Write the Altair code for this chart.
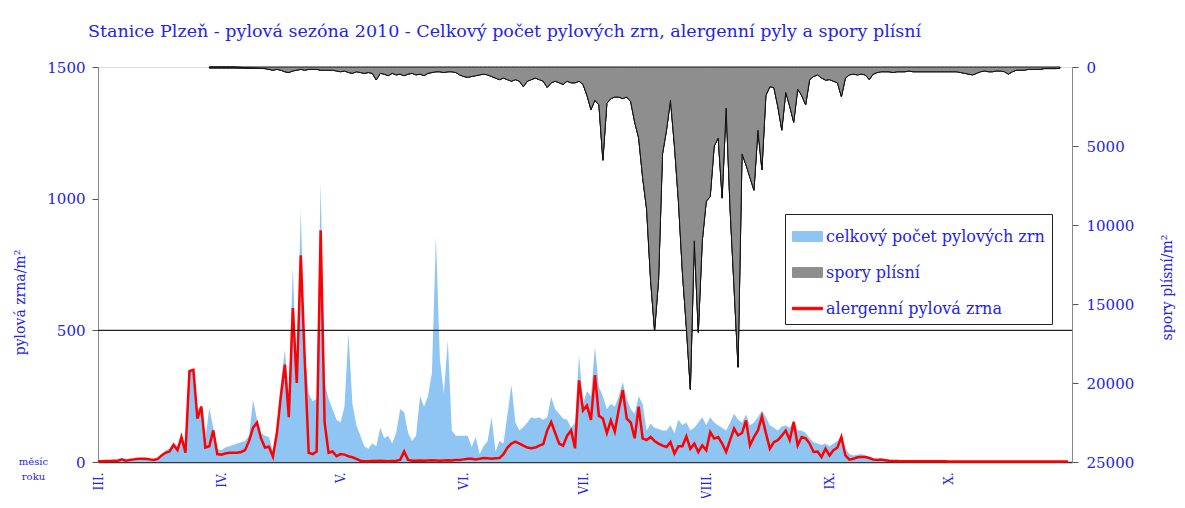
import altair as alt
import pandas as pd

# ---------------- data (day 0 = 1 March 2010 ... day 244 = 31 October) ----------------
alergenni = [
    3, 3, 4, 4, 5, 5, 10, 5, 8, 10,
    12, 12, 12, 10, 8, 12, 25, 35, 40, 65,
    45, 95, 35, 345, 350, 165, 210, 55, 60, 120,
    30, 28, 32, 35, 35, 35, 38, 45, 80, 130,
    150, 90, 55, 58, 20, 110, 250, 370, 170, 585,
    300, 785, 390, 35, 30, 40, 880, 150, 35, 40,
    22, 30, 28, 22, 18, 12, 5, 3, 3, 4,
    4, 5, 4, 3, 4, 5, 8, 40, 8, 5,
    5, 6, 5, 6, 7, 6, 5, 6, 7, 6,
    8, 8, 10, 12, 12, 10, 12, 15, 14, 12,
    14, 15, 30, 55, 70, 77, 70, 62, 55, 52,
    55, 62, 68, 120, 152, 110, 70, 62, 100, 120,
    52, 310, 196, 215, 160, 330, 175, 165, 110, 158,
    115, 200, 273, 165, 150, 90, 210, 90, 83, 95,
    80, 70, 62, 57, 76, 32, 60, 60, 97, 50,
    70, 38, 63, 45, 114, 89, 95, 70, 38, 83,
    127, 101, 110, 158, 63, 95, 120, 173, 110, 51,
    75, 83, 100, 120, 83, 152, 63, 95, 90, 70,
    38, 40, 19, 51, 25, 45, 55, 95, 25, 9,
    12, 18, 19, 19, 15, 9, 8, 9, 7, 5,
    4, 4, 3, 3, 3, 3, 3, 3, 3, 3,
    3, 3, 3, 3, 2, 2, 2, 2, 2, 2,
    2, 2, 2, 2, 2, 2, 2, 2, 2, 2,
    2, 2, 2, 2, 2, 2, 2, 2, 2, 2,
    2, 2, 2, 2, 2,
]

celkovy = [
    4, 4, 5, 5, 6, 6, 12, 6, 9, 12,
    14, 14, 14, 12, 10, 14, 30, 45, 50, 75,
    60, 100, 60, 350, 355, 200, 215, 90, 205, 130,
    50, 45, 55, 60, 65, 70, 75, 80, 100, 235,
    160, 110, 100, 95, 40, 130, 300, 425, 250, 740,
    330, 960, 420, 260, 230, 240, 1060, 300, 240, 200,
    160, 150, 210, 490, 220, 140, 100, 60, 50, 70,
    60, 130, 90, 100, 70, 110, 200, 190, 110, 80,
    100, 250, 210, 250, 340, 855, 390, 260, 462, 120,
    100, 100, 100, 100, 57, 95, 30, 60, 80, 170,
    40, 80, 70, 180, 292, 150, 120, 133, 150, 170,
    165, 170, 160, 170, 247, 200, 183, 165, 160, 130,
    150, 405, 220, 270, 250, 438, 285, 250, 200, 220,
    210, 250, 304, 240, 200, 183, 250, 220, 120, 145,
    130, 125, 120, 120, 140, 110, 160, 140, 150, 120,
    130, 150, 170, 140, 170, 150, 140, 130, 120, 150,
    183, 160, 150, 180, 140, 150, 170, 195, 170, 140,
    130, 120, 135, 140, 130, 160, 120, 120, 110, 90,
    75, 70, 65, 70, 60, 70, 80, 100, 50, 30,
    25, 28, 30, 25, 20, 15, 13, 12, 10, 8,
    8, 7, 6, 6, 5, 5, 5, 5, 4, 4,
    4, 4, 4, 4, 3, 3, 3, 3, 3, 3,
    3, 3, 3, 3, 3, 3, 3, 3, 3, 3,
    3, 3, 3, 3, 3, 3, 3, 3, 3, 3,
    3, 3, 3, 3, 3,
]

N = None
spory = (
    [N] * 28
    + [80] * 7
    + [N] * 7
    + [100, 150, 200, 150, 200, 300, 350, 250,
       200, 150, 200, 150, 150, 150, 200, 200, 200, 200,
       250, 300, 250, 350, 400, 300, 350, 400, 350, 400,
       820, 400, 450, 550, 400, 500, 450, 550, 450, 400,
       500, 450, 550, 400, 350, 300, 300, 350, 300, 300,
       350, 500, 600, 650, 600, 550, 500, 450, 500, 600,
       700, 800, 700, 800, 900, 800, 900, 1250, 900, 800,
       700, 800, 900, 1300, 1000, 900, 1000, 1100, 900, 1000,
       1000, 900, 1100, 1800, 2700, 2100, 2400, 5900, 2300, 2000,
       1900, 1900, 2000, 1900, 2200, 3500, 4500, 7000, 9000, 13500,
       16700, 13500, 5500, 4000, 2100, 5000, 8500, 13000, 16500, 20400,
       11000, 16800, 11000, 8500, 8200, 5000, 4500, 8300, 2600, 9000,
       14000, 19000, 5500, 6200, 7000, 7800, 4000, 6500, 1800, 1250,
       1300, 2500, 4000, 1600, 2500, 3500, 1400, 1800, 2400, 800,
       600, 500, 700, 830, 800, 900, 1000, 1880, 700, 500,
       450, 500, 450, 500, 800, 450, 350, 300, 300, 300,
       350, 300, 300, 300, 250, 300, 300, 300, 300, 300,
       300, 300, 300, 300, 300, 300, 300, 350, 400, 450,
       500, 400, 300, 250, 300, 300, 250, 250, 300, 450,
       300, 200, 200, 200, 150, 150, 150, 150, 100, 100,
       100, 100, 80, N, N]
)

month_ticks = [0, 31, 61, 92, 122, 153, 184, 214]
month_labels = ["III.", "IV.", "V.", "VI.", "VII.", "VIII.", "IX.", "X."]
ref_line = [500]

series_names = ["celkový počet pylových zrn", "spory plísní", "alergenní pylová zrna"]
series_colors = ["#8fc5f2", "#8e8e8e", "#ff0000"]

title_text = ("Stanice Plzeň - pylová sezóna 2010 - Celkový počet pylových zrn, "
              "alergenní pyly a spory plísní")

# ---------------- tables ----------------
days = list(range(len(celkovy)))
blue_df = pd.DataFrame({"day": days, "value": celkovy, "series": series_names[0]})
red_df = pd.DataFrame({"day": days, "value": alergenni, "series": series_names[2]})

rows = []
seg = 0
prev_none = True
for d, v in enumerate(spory):
    if v is None:
        prev_none = True
        continue
    if prev_none:
        seg += 1
        prev_none = False
    rows.append({"day": d, "value": v, "seg": seg, "series": series_names[1]})
spore_df = pd.DataFrame(rows)
rule_df = pd.DataFrame({"value": ref_line})

# ---------------- styling ----------------
FONT = "DejaVu Serif"
BLUE_TXT = "#2323ee"

label_expr = "[" + ",".join(f"'{l}'" for l in month_labels) + "][indexof([" + \
    ",".join(str(t) for t in month_ticks) + "], datum.value)]"

def sig_choice(mapping, default):
    expr = default
    for k, v in mapping.items():
        expr = f"datum.value === '{k}' ? {v} : ({expr})"
    return expr

shape_sig = sig_choice({series_names[2]: "'M-1,-0.08H1V0.08H-1Z'"}, "'M-1,-0.33H1V0.33H-1Z'")
fill_sig = sig_choice({n: f"'{c}'" for n, c in zip(series_names, series_colors)}, "'#000'")
stroke_sig = sig_choice({series_names[1]: "'#111111'"}, "'transparent'")

color_scale = alt.Scale(domain=series_names, range=series_colors)
legend = alt.Legend(
    orient="none", legendX=687, legendY=147, title=None, direction="vertical",
    labelFont=FONT, labelFontSize=16, labelColor=BLUE_TXT, labelLimit=400, labelOffset=3,
    fillColor="white", strokeColor="#222222", padding=7, rowPadding=12,
    symbolType=alt.ExprRef(shape_sig), symbolSize=900,
    symbolFillColor=alt.ExprRef(fill_sig),
    symbolStrokeColor=alt.ExprRef(stroke_sig),
    symbolStrokeWidth=1, symbolOpacity=1,
)

x_axis = alt.Axis(
    values=month_ticks, labelExpr=label_expr, labelAngle=270,
    labelFont=FONT, labelFontSize=12, labelColor=BLUE_TXT, labelPadding=10,
    ticks=False, grid=False, domainColor="#333333", domainWidth=1.5,
    title=["měsíc", "roku"], titleFont=FONT, titleFontSize=10, titleFontWeight="normal",
    titleColor=BLUE_TXT, titleX=-65, titleY=-6, titleAlign="center",
    titleBaseline="top", titleLineHeight=15, titleAngle=0,
)
x_scale = alt.Scale(domain=[0, 245], nice=False, zero=False)
x_enc = alt.X("day:Q", scale=x_scale, axis=x_axis)

left_scale = alt.Scale(domain=[0, 1500], nice=False)
left_axis = alt.Axis(
    values=[0, 500, 1000, 1500], format="d", grid=False,
    labelFont=FONT, labelFontSize=15, labelColor=BLUE_TXT, labelPadding=7,
    tickSize=6, tickColor="#555555", domainColor="#888888",
    title="pylová zrna/m²", titleFont=FONT, titleFontSize=14, titleFontWeight="normal",
    titleColor=BLUE_TXT, titleAngle=270, titleX=-78, titleY=235,
    titleAlign="center", titleBaseline="middle",
)

blue = alt.Chart(blue_df).mark_area(opacity=1, interpolate="linear").encode(
    x=x_enc,
    y=alt.Y("value:Q", scale=left_scale, axis=left_axis),
    color=alt.Color("series:N", scale=color_scale, legend=legend),
)
red = alt.Chart(red_df).mark_line(strokeWidth=2.5, interpolate="linear").encode(
    x=x_enc,
    y=alt.Y("value:Q", scale=left_scale, axis=left_axis),
    color=alt.Color("series:N", scale=color_scale, legend=legend),
)
rule = alt.Chart(rule_df).mark_rule(color="#222222", strokeWidth=1.2).encode(
    y=alt.Y("value:Q", scale=left_scale, axis=left_axis),
)
left = alt.layer(blue, red, rule)

spores = alt.Chart(spore_df).mark_area(
    stroke="#111111", strokeWidth=1, opacity=1, interpolate="linear"
).encode(
    x=x_enc,
    y=alt.Y(
        "value:Q",
        scale=alt.Scale(domain=[0, 25000], reverse=True, nice=False),
        axis=alt.Axis(
            orient="right", values=[0, 5000, 10000, 15000, 20000, 25000], format="d",
            grid=False,
            labelFont=FONT, labelFontSize=15, labelColor=BLUE_TXT, labelPadding=8,
            tickSize=6, tickColor="#555555", domainColor="#888888",
            title="spory plísní/m²", titleFont=FONT, titleFontSize=14, titleFontWeight="normal",
            titleColor=BLUE_TXT, titleAngle=270, titleX=95, titleY=220,
            titleAlign="center", titleBaseline="middle",
        ),
    ),
    detail="seg:N",
    color=alt.Color("series:N", scale=color_scale, legend=legend),
)

chart = alt.layer(left, spores).resolve_scale(y="independent", color="shared").properties(
    width=974, height=395,
    autosize=alt.AutoSizeParams(type="none"),
    padding={"left": 90, "top": 59, "right": 105, "bottom": 36},
    title=alt.TitleParams(
        text=title_text, anchor="start", frame="group", offset=20, dx=-10,
        font=FONT, fontSize=17.5, fontWeight="normal", color=BLUE_TXT,
    ),
).configure_view(stroke=None).configure(background="white")

chart.save("out.html", embed_options={"renderer": "svg", "actions": False})
